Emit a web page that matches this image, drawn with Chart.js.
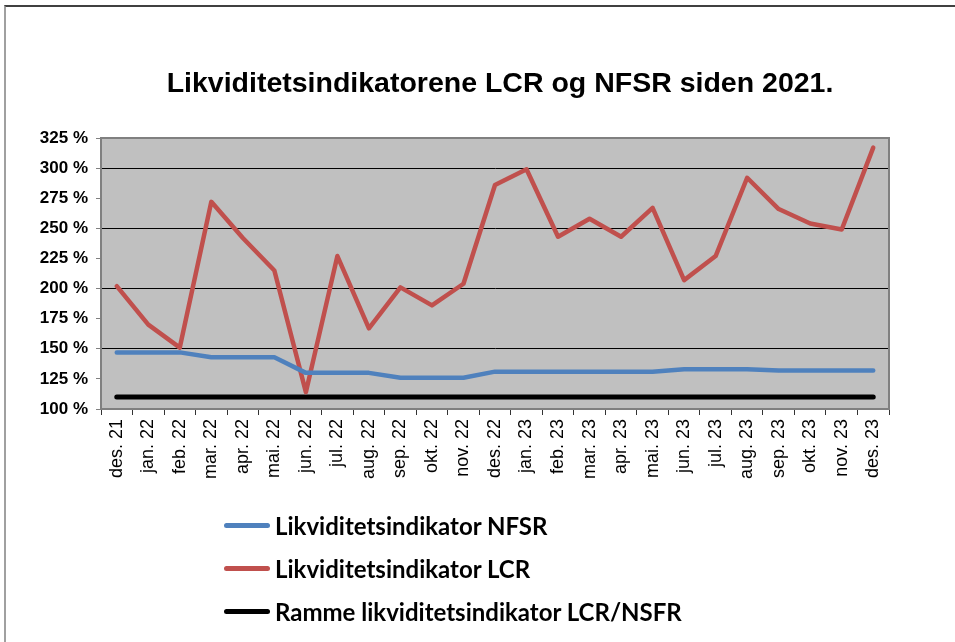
<!DOCTYPE html>
<html>
<head>
<meta charset="utf-8">
<script src="https://cdn.jsdelivr.net/npm/chart.js@4.4.1/dist/chart.umd.min.js"></script>
<style>
  body { margin: 0; background: #fff; }
  #wrap { position: relative; width: 955px; height: 642px; overflow: hidden; }
  #frame { position: absolute; left: 4px; top: 5px; width: 1000px; height: 700px;
           border-left: 2px solid #a0a0a0; border-top: 2px solid #404040; }
  canvas { position: absolute; left: 0; top: 0; }
  #title { position: absolute; left: 0; width: 1000px; top: 66px; text-align: center;
           font-family: "Liberation Sans", Arial, sans-serif; font-weight: bold; font-size: 28.5px; color: #000; }
  #legend { position: absolute; left: 224px; top: 504px; font-family: Lato, "Liberation Sans", sans-serif;
            font-weight: bold; font-size: 24px; color: #000; }
  .row { height: 43px; display: flex; align-items: center; }
  .swatch { width: 46px; height: 5px; border-radius: 3px; margin-right: 5px; }
</style>
</head>
<body>
<div id="wrap">
  <div id="frame"></div>
  <canvas id="likviditet" width="955" height="642"></canvas>
  <div id="title">Likviditetsindikatorene LCR og NFSR siden 2021.</div>
  <div id="legend"></div>
</div>
<script>
// måneder på x-aksen
const months = ["des. 21", "jan. 22", "feb. 22", "mar. 22", "apr. 22", "mai. 22", "jun. 22",
  "jul. 22", "aug. 22", "sep. 22", "okt. 22", "nov. 22", "des. 22", "jan. 23", "feb. 23",
  "mar. 23", "apr. 23", "mai. 23", "jun. 23", "jul. 23", "aug. 23", "sep. 23", "okt. 23",
  "nov. 23", "des. 23"];

// verdier i prosent, lest av figuren
const nfsr = [147, 147, 147, 143, 143, 143, 130, 130, 130, 126, 126, 126, 131, 131, 131,
  131, 131, 131, 133, 133, 133, 132, 132, 132, 132];
const lcr = [202, 170, 151, 272, 242, 215, 114, 227, 167, 201, 186, 204, 286, 299, 243,
  258, 243, 267, 207, 227, 292, 266, 254, 249, 317];
const ramme = [110, 110, 110, 110, 110, 110, 110, 110, 110, 110, 110, 110, 110, 110, 110,
  110, 110, 110, 110, 110, 110, 110, 110, 110, 110];

const yTicks = { min: 100, max: 325, step: 25 };

// grå bakgrunn og ramme rundt plottet
const plotBg = {
  id: "plotBg",
  beforeDraw(chart) {
    const { ctx, chartArea: a } = chart;
    ctx.save();
    ctx.fillStyle = "#c0c0c0";
    ctx.fillRect(a.left, a.top, a.right - a.left, a.bottom - a.top);
    ctx.restore();
  },
  beforeDatasetsDraw(chart) {
    const { ctx, chartArea: a } = chart;
    ctx.save();
    ctx.strokeStyle = "#808080";
    ctx.lineWidth = 2;
    ctx.strokeRect(a.left, a.top, a.right - a.left, a.bottom - a.top);
    ctx.restore();
  }
};

const ctx = document.getElementById("likviditet").getContext("2d");
const chart = new Chart(ctx, {
  type: "line",
  data: {
    labels: months,
    datasets: [
      { label: "Likviditetsindikator NFSR", data: nfsr, borderColor: "#4f81bd" },
      { label: "Likviditetsindikator LCR", data: lcr, borderColor: "#c0504d" },
      { label: "Ramme likviditetsindikator LCR/NSFR", data: ramme, borderColor: "#000000", borderWidth: 5 }
    ]
  },
  options: {
    responsive: false,
    devicePixelRatio: 1,
    animation: false,
    layout: { padding: { left: 0, right: 66, top: 138, bottom: 0 } },
    elements: {
      line: { borderWidth: 4.5, tension: 0, borderCapStyle: "round", borderJoinStyle: "round" },
      point: { radius: 0 }
    },
    plugins: {
      legend: { display: false },
      tooltip: { enabled: false },
      title: { display: false }
    },
    scales: {
      x: {
        offset: true,
        afterFit(scale) { scale.height = 233; },
        grid: { display: true, drawOnChartArea: false, offset: true, tickLength: 6, color: "#333" },
        border: { color: "#808080", width: 2 },
        ticks: {
          autoSkip: false, maxRotation: 90, minRotation: 90, padding: 4, color: "#000",
          font: { family: "'Liberation Sans', Arial, sans-serif", size: 18 }
        }
      },
      y: {
        min: yTicks.min,
        max: yTicks.max,
        afterFit(scale) { scale.width = 101; },
        grid: {
          tickLength: 5,
          tickColor: "#808080",
          color: (c) => (c.tick && c.tick.value % 50 === 0 && c.tick.value > 100 && c.tick.value < 325) ? "#000" : "rgba(0,0,0,0)"
        },
        border: { color: "#808080", width: 2 },
        ticks: {
          stepSize: yTicks.step, padding: 8, color: "#000",
          font: { family: "'Liberation Sans', Arial, sans-serif", size: 17, weight: "bold" },
          callback: (v) => v + " %"
        }
      }
    }
  },
  plugins: [plotBg]
});

// egen forklaring under figuren, én linje per serie
const legend = document.getElementById("legend");
chart.data.datasets.forEach((ds) => {
  const row = document.createElement("div");
  row.className = "row";
  const sw = document.createElement("span");
  sw.className = "swatch";
  sw.style.background = ds.borderColor;
  const txt = document.createElement("span");
  txt.textContent = ds.label;
  row.appendChild(sw);
  row.appendChild(txt);
  legend.appendChild(row);
});
</script>
</body>
</html>
